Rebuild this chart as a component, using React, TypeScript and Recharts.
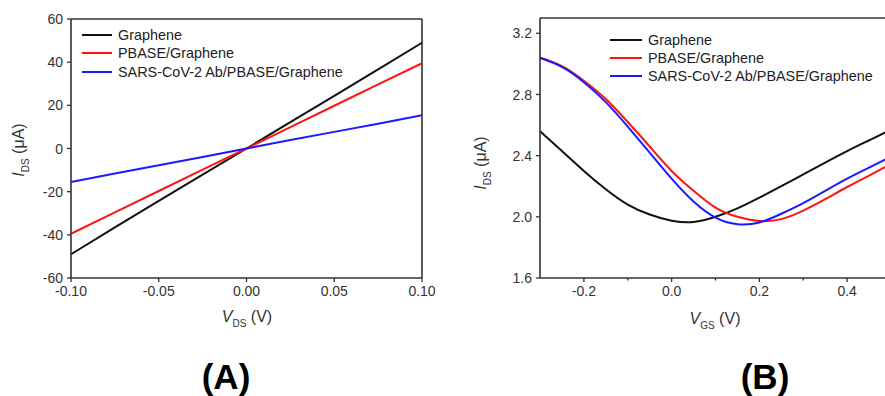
import React from "react";
import { LineChart, Line, XAxis, YAxis, ReferenceLine, Legend } from "recharts";

// (A) output curves, I_DS vs V_DS
const vdsA = [-0.1, -0.075, -0.05, -0.025, 0, 0.025, 0.05, 0.075, 0.1];
const grapheneA = [-49, -36.5, -24.3, -12.1, 0, 12.2, 24.4, 36.7, 49];
const pbaseA = [-39.5, -29.6, -19.7, -9.8, 0, 9.9, 19.8, 29.7, 39.5];
const antibodyA = [-15.5, -11.6, -7.8, -3.9, 0, 3.9, 7.7, 11.5, 15.4];

// (B) transfer curves, I_DS vs V_GS
const vgsB = [-0.3, -0.25, -0.2, -0.15, -0.1, -0.05, 0, 0.05, 0.1, 0.15, 0.2, 0.25, 0.3, 0.35, 0.4, 0.45, 0.5];
const grapheneB = [2.56, 2.43, 2.3, 2.18, 2.08, 2.015, 1.975, 1.966, 2.0, 2.055, 2.125, 2.2, 2.278, 2.355, 2.43, 2.5, 2.57];
const pbaseB = [3.04, 2.985, 2.89, 2.77, 2.62, 2.46, 2.3, 2.17, 2.06, 2.0, 1.973, 1.985, 2.04, 2.115, 2.195, 2.27, 2.345];
const antibodyB = [3.04, 2.98, 2.88, 2.75, 2.59, 2.42, 2.25, 2.1, 1.995, 1.952, 1.963, 2.02, 2.09, 2.17, 2.25, 2.322, 2.393];

const xTicksA = [-0.1, -0.05, 0, 0.05, 0.1];
const yTicksA = [-60, -40, -20, 0, 20, 40, 60];
const xTicksB = [-0.2, -0.1, 0, 0.1, 0.2, 0.3, 0.4];
const xMajorB = [-0.2, 0, 0.2, 0.4];
const yTicksB = [1.6, 2.0, 2.4, 2.8, 3.2];

const names = ["Graphene", "PBASE/Graphene", "SARS-CoV-2 Ab/PBASE/Graphene"];
const colors = ["#111111", "#ff1414", "#1a1aff"];

const AXIS = "#333";
const FONT = "'Liberation Sans', Arial, sans-serif";

const dataA = vdsA.map((v, i) => ({ x: v, g: grapheneA[i], p: pbaseA[i], a: antibodyA[i] }));
const dataB = vgsB.map((v, i) => ({ x: v, g: grapheneB[i], p: pbaseB[i], a: antibodyB[i] }));

function makeXTick(majors: number[], fmt: (v: number) => string) {
  return (props: any) => {
    const { x, y, payload } = props;
    const major = majors.some((m) => Math.abs(m - payload.value) < 1e-9);
    return (
      <g>
        <line x1={x} x2={x} y1={y} y2={y + (major ? 4 : 2.5)} stroke={AXIS} strokeWidth={1.3} />
        {major && (
          <text x={x} y={y + 7} dy="0.8em" textAnchor="middle" fill="#333" fontSize={14} fontFamily={FONT}>
            {fmt(payload.value)}
          </text>
        )}
      </g>
    );
  };
}

function makeYTick(fmt: (v: number) => string) {
  return (props: any) => {
    const { x, y, payload } = props;
    return (
      <g>
        <line x1={x} x2={x - 4} y1={y} y2={y} stroke={AXIS} strokeWidth={1.3} />
        <text x={x - 8} y={y} dy="0.36em" textAnchor="end" fill="#333" fontSize={14} fontFamily={FONT}>
          {fmt(payload.value)}
        </text>
      </g>
    );
  };
}

function LegendBox({ swatch, rowH }: { swatch: number; rowH: number }) {
  return (
    <div style={{ fontFamily: FONT, fontSize: 14.4, color: "#222" }}>
      {names.map((n, i) => (
        <div key={n} style={{ display: "flex", alignItems: "center", height: rowH, whiteSpace: "nowrap" }}>
          <svg width={swatch} height={4} style={{ marginRight: 6 }}>
            <line x1={0} x2={swatch} y1={2} y2={2} stroke={colors[i]} strokeWidth={2} />
          </svg>
          {n}
        </div>
      ))}
    </div>
  );
}

function Title({ sym, sub, unit, cx, cy, rotate }: { sym: string; sub: string; unit: string; cx: number; cy: number; rotate?: boolean }) {
  return (
    <div
      style={{
        position: "absolute",
        left: cx,
        top: cy,
        transform: `translate(-50%, -50%)${rotate ? " rotate(-90deg)" : ""}`,
        fontFamily: FONT,
        fontSize: 16,
        color: "#333",
        whiteSpace: "nowrap",
        lineHeight: 1,
      }}
    >
      <i>{sym}</i>
      <sub style={{ fontSize: 10 }}>{sub}</sub> ({unit})
    </div>
  );
}

export default function App() {
  const fmtA = (v: number) => v.toFixed(2);
  return (
    <div style={{ position: "absolute", left: 0, top: 0, width: 885, height: 396, overflow: "hidden", background: "#fff" }}>
      {/* (A) */}
      <div style={{ position: "absolute", left: 0, top: 0 }}>
        <LineChart width={440} height={330} data={dataA} margin={{ top: 19, right: 18, bottom: 0, left: 0 }}>
          <XAxis
            dataKey="x"
            type="number"
            domain={[-0.1, 0.1]}
            ticks={xTicksA}
            interval={0}
            height={52}
            tickSize={0}
            tickMargin={0}
            tickLine={false}
            axisLine={{ stroke: AXIS, strokeWidth: 1.6 }}
            tick={makeXTick(xTicksA, fmtA)}
          />
          <YAxis
            type="number"
            domain={[-60, 60]}
            ticks={yTicksA}
            interval={0}
            width={71}
            tickSize={0}
            tickMargin={0}
            tickLine={false}
            axisLine={{ stroke: AXIS, strokeWidth: 1.6 }}
            tick={makeYTick((v) => String(v))}
          />
          <ReferenceLine y={60} stroke={AXIS} strokeWidth={1.6} />
          <ReferenceLine x={0.1} stroke={AXIS} strokeWidth={1.6} />
          <Legend
            layout="vertical"
            align="center"
            verticalAlign="middle"
            wrapperStyle={{ top: 26, left: 82, width: 300 }}
            content={() => <LegendBox swatch={30} rowH={18.3} />}
          />
          <Line type="linear" dataKey="g" stroke={colors[0]} strokeWidth={2} dot={false} isAnimationActive={false} />
          <Line type="linear" dataKey="p" stroke={colors[1]} strokeWidth={2} dot={false} isAnimationActive={false} />
          <Line type="linear" dataKey="a" stroke={colors[2]} strokeWidth={2} dot={false} isAnimationActive={false} />
        </LineChart>
      </div>
      <Title sym="I" sub="DS" unit="μA" cx={21} cy={150} rotate />
      <Title sym="V" sub="DS" unit="V" cx={247} cy={319} />

      {/* (B) */}
      <div style={{ position: "absolute", left: 440, top: 0 }}>
        <LineChart width={460} height={340} data={dataB} margin={{ top: 18, right: 9, bottom: 0, left: 0 }}>
          <XAxis
            dataKey="x"
            type="number"
            domain={[-0.3, 0.5]}
            ticks={xTicksB}
            interval={0}
            height={62}
            tickSize={0}
            tickMargin={0}
            tickLine={false}
            axisLine={{ stroke: AXIS, strokeWidth: 1.6 }}
            tick={makeXTick(xMajorB, (v) => v.toFixed(1))}
          />
          <YAxis
            type="number"
            domain={[1.6, 3.3]}
            ticks={yTicksB}
            interval={0}
            width={100}
            tickSize={0}
            tickMargin={0}
            tickLine={false}
            axisLine={{ stroke: AXIS, strokeWidth: 1.6 }}
            tick={makeYTick((v) => v.toFixed(1))}
          />
          <ReferenceLine y={3.3} stroke={AXIS} strokeWidth={1.6} />
          <Legend
            layout="vertical"
            align="center"
            verticalAlign="middle"
            wrapperStyle={{ top: 31, left: 170, width: 300 }}
            content={() => <LegendBox swatch={32} rowH={18} />}
          />
          <Line type="natural" dataKey="g" stroke={colors[0]} strokeWidth={2} dot={false} isAnimationActive={false} />
          <Line type="natural" dataKey="p" stroke={colors[1]} strokeWidth={2} dot={false} isAnimationActive={false} />
          <Line type="natural" dataKey="a" stroke={colors[2]} strokeWidth={2} dot={false} isAnimationActive={false} />
        </LineChart>
      </div>
      <Title sym="I" sub="DS" unit="μA" cx={483} cy={163} rotate />
      <Title sym="V" sub="GS" unit="V" cx={715} cy={321} />

      <div style={{ position: "absolute", left: 226, top: 376, transform: "translate(-50%, -50%)", fontFamily: FONT, fontWeight: "bold", fontSize: 35, lineHeight: 1 }}>
        (A)
      </div>
      <div style={{ position: "absolute", left: 765, top: 376, transform: "translate(-50%, -50%)", fontFamily: FONT, fontWeight: "bold", fontSize: 35, lineHeight: 1 }}>
        (B)
      </div>
    </div>
  );
}
